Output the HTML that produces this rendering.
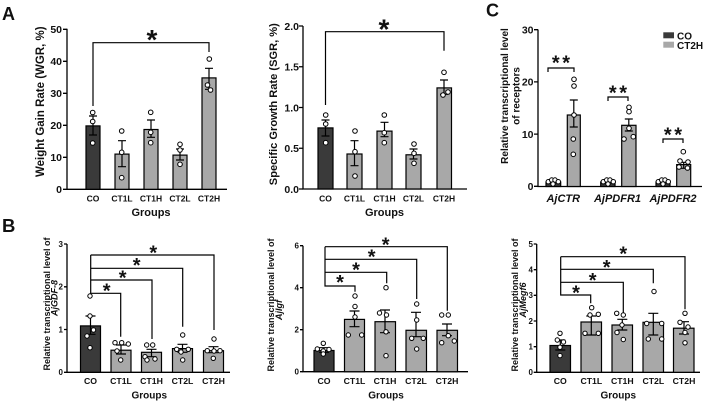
<!DOCTYPE html>
<html><head><meta charset="utf-8"><style>
html,body{margin:0;padding:0;background:#fff;}
svg{display:block;}
text{font-family:"Liberation Sans",Arial,sans-serif;font-weight:bold;fill:#111;}
.ax{stroke:#000;stroke-width:1.3;fill:none;}
.d{fill:#3a3a3a;stroke:#000;stroke-width:1.2;}
.l{fill:#a8a8a8;stroke:#000;stroke-width:1.2;}
.e{stroke:#000;stroke-width:1.2;fill:none;}
.c{fill:#fff;stroke:#000;stroke-width:1;}
</style></head><body>
<svg width="708" height="401" viewBox="0 0 708 401" xmlns="http://www.w3.org/2000/svg">
<rect width="708" height="401" fill="#fff"/>
<!-- Panel letters -->
<text x="2" y="20" font-size="18">A</text>
<text x="2" y="232" font-size="18.5">B</text>
<text x="486" y="16.5" font-size="18">C</text>

<!-- ===== A1 WGR ===== -->
<path class="ax" d="M67,28.8V189.3H227"/>
<path class="ax" d="M63,29.3H67M63,61.3H67M63,93.3H67M63,125.3H67M63,157.3H67M63,189.3H67"/>
<g font-size="10.5" text-anchor="end">
<text x="62" y="33.1">50</text><text x="62" y="65.1">40</text><text x="62" y="97.1">30</text>
<text x="62" y="129.1">20</text><text x="62" y="161.1">10</text><text x="62" y="193.1">0</text>
</g>
<rect class="d" x="86" y="125.9" width="14" height="63.4"/>
<rect class="l" x="115" y="154.1" width="14" height="35.2"/>
<rect class="l" x="144" y="129.5" width="14" height="59.8"/>
<rect class="l" x="173" y="155.1" width="14" height="34.2"/>
<rect class="l" x="202" y="77.9" width="14" height="111.4"/>
<path class="e" d="M93,116V135M89,116H97M89,135H97M122,140.7V166.7M118,140.7H126M118,166.7H126M151,120V137.3M147,120H155M147,137.3H155M180,149V160M176,149H184M176,160H184M209,68.3V89.3M205,68.3H213M205,89.3H213"/>
<g class="c">
<circle cx="92.7" cy="112.5" r="2.3"/><circle cx="92.7" cy="121.5" r="2.3"/><circle cx="92.7" cy="143" r="2.3"/>
<circle cx="121.7" cy="131" r="2.3"/><circle cx="121.7" cy="152.3" r="2.3"/><circle cx="121.7" cy="177.7" r="2.3"/>
<circle cx="150.7" cy="112.3" r="2.3"/><circle cx="150.7" cy="132.3" r="2.3"/><circle cx="150.7" cy="142.7" r="2.3"/>
<circle cx="180" cy="144.3" r="2.3"/><circle cx="180" cy="150" r="2.3"/><circle cx="180" cy="164.3" r="2.3"/>
<circle cx="209.3" cy="59" r="2.3"/><circle cx="207.5" cy="85" r="2.3"/><circle cx="210.5" cy="90" r="2.3"/>
</g>
<path class="e" d="M93,106V42.7H209V52"/>
<text x="152" y="48.9" font-size="28" text-anchor="middle">*</text>
<g font-size="8.5" text-anchor="middle">
<text x="93" y="201.5">CO</text><text x="122" y="201.5">CT1L</text><text x="151" y="201.5">CT1H</text><text x="180" y="201.5">CT2L</text><text x="209" y="201.5">CT2H</text>
</g>
<text x="151" y="216" font-size="11" text-anchor="middle">Groups</text>
<text transform="translate(44,101.7) rotate(-90)" font-size="11.5" text-anchor="middle">Weight Gain Rate (WGR, %)</text>

<!-- ===== A2 SGR ===== -->
<path class="ax" d="M303,26V189H467"/>
<path class="ax" d="M299,26H303M299,66.75H303M299,107.5H303M299,148.25H303M299,189H303"/>
<g font-size="10.5" text-anchor="end">
<text x="299" y="29.8">2.0</text><text x="299" y="70.5">1.5</text><text x="299" y="111.3">1.0</text>
<text x="299" y="152">0.5</text><text x="299" y="192.8">0.0</text>
</g>
<rect class="d" x="318" y="127.9" width="15" height="61.1"/>
<rect class="l" x="347" y="154" width="15" height="35"/>
<rect class="l" x="377" y="131.1" width="15" height="57.9"/>
<rect class="l" x="406" y="154.8" width="15" height="34.2"/>
<rect class="l" x="437" y="87.9" width="14.5" height="101.1"/>
<path class="e" d="M325.5,120V136M321.5,120H329.5M321.5,136H329.5M354.5,140.7V165.7M350.5,140.7H358.5M350.5,165.7H358.5M384.5,122.3V136.7M380.5,122.3H388.5M380.5,136.7H388.5M413.5,149V159M409.5,149H417.5M409.5,159H417.5M444,80V94.3M440,80H448M440,94.3H448"/>
<g class="c">
<circle cx="325.7" cy="115" r="2.3"/><circle cx="325.7" cy="124" r="2.3"/><circle cx="325.7" cy="142.7" r="2.3"/>
<circle cx="355" cy="131" r="2.3"/><circle cx="355" cy="151.7" r="2.3"/><circle cx="355" cy="176" r="2.3"/>
<circle cx="384.3" cy="115" r="2.3"/><circle cx="384.3" cy="132.7" r="2.3"/><circle cx="384.3" cy="142.7" r="2.3"/>
<circle cx="414" cy="144" r="2.3"/><circle cx="414" cy="153.3" r="2.3"/><circle cx="414" cy="163.3" r="2.3"/>
<circle cx="444" cy="72.3" r="2.3"/><circle cx="443" cy="95" r="2.3"/><circle cx="448" cy="92" r="2.3"/>
</g>
<path class="e" d="M325.5,105V31.7H444V50.7"/>
<text x="384" y="38.6" font-size="28" text-anchor="middle">*</text>
<g font-size="8.5" text-anchor="middle">
<text x="325.5" y="201.5">CO</text><text x="354.5" y="201.5">CT1L</text><text x="384.5" y="201.5">CT1H</text><text x="413.5" y="201.5">CT2L</text><text x="444" y="201.5">CT2H</text>
</g>
<text x="384.5" y="216" font-size="11" text-anchor="middle">Groups</text>
<text transform="translate(277,104.2) rotate(-90)" font-size="11" text-anchor="middle" textLength="162" lengthAdjust="spacingAndGlyphs">Specific Growth Rate (SGR, %)</text>

<!-- ===== C receptors ===== -->
<path class="ax" d="M538,29.5V186.5H702"/>
<path class="ax" d="M534,29.7H538M534,81.9H538M534,134.1H538M534,186.3H538"/>
<g font-size="10.5" text-anchor="end">
<text x="533.5" y="33.5">30</text><text x="533.5" y="85.7">20</text><text x="533.5" y="137.9">10</text><text x="533.5" y="190.1">0</text>
</g>
<rect class="d" x="546" y="182" width="14.7" height="4.5"/>
<rect class="l" x="567.3" y="115" width="13" height="71.5"/>
<rect class="d" x="600.7" y="182" width="14.3" height="4.5"/>
<rect class="l" x="621.7" y="125.3" width="14.3" height="61.2"/>
<rect class="d" x="656" y="182" width="14" height="4.5"/>
<rect class="l" x="676.7" y="164.6" width="14" height="21.9"/>
<path class="e" d="M573.8,100V127M569.8,100H577.8M569.8,127H577.8M628.8,119V131M624.8,119H632.8M624.8,131H632.8M683.7,162.3V168.3M679.7,162.3H687.7M679.7,168.3H687.7"/>
<g class="c">
<circle cx="548.3" cy="181.7" r="2.2"/><circle cx="551.7" cy="180" r="2.2"/><circle cx="555" cy="180" r="2.2"/><circle cx="558.3" cy="181.7" r="2.2"/><circle cx="553" cy="184" r="2.2"/>
<circle cx="603.3" cy="181.7" r="2.2"/><circle cx="606.7" cy="180" r="2.2"/><circle cx="610" cy="180" r="2.2"/><circle cx="613.3" cy="181.7" r="2.2"/><circle cx="608" cy="184" r="2.2"/>
<circle cx="658.3" cy="181.7" r="2.2"/><circle cx="661.7" cy="180" r="2.2"/><circle cx="665" cy="180" r="2.2"/><circle cx="668.3" cy="181.7" r="2.2"/><circle cx="663" cy="184" r="2.2"/>
<circle cx="574" cy="79.3" r="2.3"/><circle cx="574" cy="86" r="2.3"/><circle cx="574" cy="115" r="2.3"/><circle cx="573.3" cy="139" r="2.3"/><circle cx="573.3" cy="154.3" r="2.3"/>
<circle cx="629" cy="107.3" r="2.3"/><circle cx="629" cy="111.7" r="2.3"/><circle cx="629" cy="128.3" r="2.3"/><circle cx="624" cy="139" r="2.3"/><circle cx="633.3" cy="136.7" r="2.3"/>
<circle cx="683.3" cy="151.7" r="2.3"/><circle cx="680" cy="161" r="2.3"/><circle cx="688" cy="162" r="2.3"/><circle cx="679" cy="167" r="2.3"/><circle cx="687.5" cy="168" r="2.3"/>
</g>
<path class="e" d="M548,72V68H574V72M608,101V97H628V101M663,143V139H683V143"/>
<g font-size="20" text-anchor="middle" letter-spacing="2.5">
<text x="562.2" y="69.4">**</text><text x="619.2" y="99.4">**</text><text x="674.2" y="141.4">**</text>
</g>
<rect x="663.3" y="32.3" width="10.7" height="6" fill="#3a3a3a"/>
<rect x="663.3" y="41.7" width="10.7" height="6" fill="#a8a8a8"/>
<text x="677" y="39.5" font-size="10">CO</text>
<text x="677" y="49" font-size="10">CT2H</text>
<g font-size="11" font-style="italic" text-anchor="middle">
<text x="563.3" y="202">AjCTR</text><text x="617.5" y="202">AjPDFR1</text><text x="673" y="202">AjPDFR2</text>
</g>
<text transform="translate(508,96) rotate(-90)" font-size="10" text-anchor="middle">Relative transcriptional level</text>
<text transform="translate(519.5,96) rotate(-90)" font-size="10" text-anchor="middle">of receptors</text>

<!-- ===== B1 GDF-8 ===== -->
<path class="ax" d="M67,244V372.3H230"/>
<path class="ax" d="M64,244H67M64,286.8H67M64,329.5H67M64,372.3H67"/>
<g font-size="8" text-anchor="end">
<text x="63" y="246.9">3</text><text x="63" y="289.7">2</text><text x="63" y="332.4">1</text><text x="63" y="375.2">0</text>
</g>
<rect class="d" x="80.5" y="325.9" width="20" height="46.4"/>
<rect class="l" x="111" y="350.2" width="20" height="22.1"/>
<rect class="l" x="141.5" y="352.3" width="20" height="20"/>
<rect class="l" x="172.5" y="348.6" width="20" height="23.7"/>
<rect class="l" x="203.5" y="350.7" width="20" height="21.6"/>
<path class="e" d="M90.5,316V334.3M85.5,316H95.5M85.5,334.3H95.5M121,345V354M116,345H126M116,354H126M151.5,349.3V356.7M146.5,349.3H156.5M146.5,356.7H156.5M182.5,344.3V352.3M177.5,344.3H187.5M177.5,352.3H187.5M213.5,346.7V352.7M208.5,346.7H218.5M208.5,352.7H218.5"/>
<g class="c">
<circle cx="90" cy="296" r="2.2"/><circle cx="90" cy="316" r="2.2"/><circle cx="93.5" cy="330" r="2.2"/><circle cx="87" cy="336" r="2.2"/><circle cx="90" cy="347.7" r="2.2"/>
<circle cx="115" cy="342.7" r="2.2"/><circle cx="121.7" cy="342.7" r="2.2"/><circle cx="128.3" cy="344" r="2.2"/><circle cx="117" cy="351" r="2.2"/><circle cx="120.7" cy="360" r="2.2"/>
<circle cx="146.7" cy="345" r="2.2"/><circle cx="152.7" cy="345" r="2.2"/><circle cx="145" cy="356.7" r="2.2"/><circle cx="147" cy="360" r="2.2"/><circle cx="155" cy="359" r="2.2"/>
<circle cx="182.7" cy="335" r="2.2"/><circle cx="176.7" cy="349.3" r="2.2"/><circle cx="188.3" cy="349.3" r="2.2"/><circle cx="181" cy="352" r="2.2"/><circle cx="182.7" cy="360" r="2.2"/>
<circle cx="214" cy="339" r="2.2"/><circle cx="207.3" cy="350.7" r="2.2"/><circle cx="214" cy="351" r="2.2"/><circle cx="220" cy="350.7" r="2.2"/><circle cx="213.3" cy="358.3" r="2.2"/>
</g>
<path class="e" d="M90.7,255V293.3H120.7V336.7M90.7,280H152V339M90.7,268.3H182.7V326.7M90.7,255H214V330"/>
<g font-size="20" text-anchor="middle">
<text x="106.7" y="297.4">*</text><text x="122.7" y="284.4">*</text><text x="136.7" y="272.1">*</text><text x="153.3" y="259.7">*</text>
</g>
<g font-size="8.7" text-anchor="middle">
<text x="90.5" y="384">CO</text><text x="121" y="384">CT1L</text><text x="151.5" y="384">CT1H</text><text x="182.5" y="384">CT2L</text><text x="213.5" y="384">CT2H</text>
</g>
<text x="149.3" y="398.5" font-size="10" text-anchor="middle">Groups</text>
<text transform="translate(49.8,304) rotate(-90)" font-size="9" text-anchor="middle">Relative transcriptional level of</text>
<text transform="translate(57.5,298) rotate(-90)" font-size="9" font-style="italic" text-anchor="middle">AjGDF-8</text>

<!-- ===== B2 Igf ===== -->
<path class="ax" d="M303,245.7V371.7H468"/>
<path class="ax" d="M300,245.7H303M300,287.7H303M300,329.7H303M300,371.7H303"/>
<g font-size="8" text-anchor="end">
<text x="299" y="248.6">6</text><text x="299" y="290.6">4</text><text x="299" y="332.6">2</text><text x="299" y="374.6">0</text>
</g>
<rect class="d" x="314" y="350.5" width="20" height="21.2"/>
<rect class="l" x="344.5" y="319.4" width="20" height="52.3"/>
<rect class="l" x="375" y="321.7" width="20.5" height="50"/>
<rect class="l" x="406" y="330.3" width="20.5" height="41.4"/>
<rect class="l" x="437" y="330.3" width="20.5" height="41.4"/>
<path class="e" d="M324,347.7V352.3M319,347.7H329M319,352.3H329M354.5,311V326.7M349.5,311H359.5M349.5,326.7H359.5M385,310V332.7M380,310H390M380,332.7H390M416,312.3V336.7M411,312.3H421M411,336.7H421M447,324V335.7M442,324H452M442,335.7H452"/>
<g class="c">
<circle cx="323.3" cy="343.3" r="2.2"/><circle cx="317.3" cy="349" r="2.2"/><circle cx="329" cy="349.5" r="2.2"/><circle cx="323.3" cy="351" r="2.2"/><circle cx="323.3" cy="354" r="2.2"/>
<circle cx="355" cy="296" r="2.2"/><circle cx="355" cy="306.5" r="2.2"/><circle cx="355" cy="317" r="2.2"/><circle cx="348.3" cy="335" r="2.2"/><circle cx="361.7" cy="335" r="2.2"/>
<circle cx="386" cy="287.7" r="2.2"/><circle cx="379.5" cy="313" r="2.2"/><circle cx="386.5" cy="315" r="2.2"/><circle cx="386" cy="331.8" r="2.2"/><circle cx="386" cy="355.7" r="2.2"/>
<circle cx="416.7" cy="304" r="2.2"/><circle cx="416.7" cy="320" r="2.2"/><circle cx="411.7" cy="338.3" r="2.2"/><circle cx="423.3" cy="338.3" r="2.2"/><circle cx="416.7" cy="349" r="2.2"/>
<circle cx="441.7" cy="315" r="2.2"/><circle cx="448.3" cy="315" r="2.2"/><circle cx="448.3" cy="335.7" r="2.2"/><circle cx="441.7" cy="342.7" r="2.2"/><circle cx="454.3" cy="341" r="2.2"/>
</g>
<path class="e" d="M325,246.7V286H355V291.7M325,272.3H386.7V283.3M325,259.3H416.7V299M325,246.7H447.3V310.7"/>
<g font-size="20" text-anchor="middle">
<text x="340" y="289.1">*</text><text x="356" y="276.4">*</text><text x="371.7" y="263.7">*</text><text x="385.7" y="251.4">*</text>
</g>
<g font-size="8.7" text-anchor="middle">
<text x="324" y="384">CO</text><text x="354.5" y="384">CT1L</text><text x="385" y="384">CT1H</text><text x="416" y="384">CT2L</text><text x="447" y="384">CT2H</text>
</g>
<text x="386" y="398.5" font-size="10" text-anchor="middle">Groups</text>
<text transform="translate(274,305) rotate(-90)" font-size="9" text-anchor="middle">Relative transcriptional level of</text>
<text transform="translate(282,310) rotate(-90)" font-size="9" font-style="italic" text-anchor="middle">AjIgf</text>

<!-- ===== B3 Megf6 ===== -->
<path class="ax" d="M536.7,244V372.3H700"/>
<path class="ax" d="M533.7,244H536.7M533.7,269.7H536.7M533.7,295.3H536.7M533.7,321H536.7M533.7,346.7H536.7M533.7,372.3H536.7"/>
<g font-size="8" text-anchor="end">
<text x="533" y="246.9">5</text><text x="533" y="272.6">4</text><text x="533" y="298.2">3</text><text x="533" y="323.9">2</text><text x="533" y="349.6">1</text><text x="533" y="375.2">0</text>
</g>
<rect class="d" x="550" y="345.5" width="20.5" height="26.8"/>
<rect class="l" x="581" y="322" width="20.5" height="50.3"/>
<rect class="l" x="612" y="325" width="20.5" height="47.3"/>
<rect class="l" x="643" y="322.3" width="20.5" height="50"/>
<rect class="l" x="673.5" y="328.2" width="20.5" height="44.1"/>
<path class="e" d="M560.3,340V350M555.3,340H565.3M555.3,350H565.3M591.3,316V335M586.3,316H596.3M586.3,335H596.3M622.3,319.3V330M617.3,319.3H627.3M617.3,330H627.3M653.3,313.3V335M648.3,313.3H658.3M648.3,335H658.3M684,321.7V334M679,321.7H689M679,334H689"/>
<g class="c">
<circle cx="560" cy="333.3" r="2.2"/><circle cx="557.3" cy="340" r="2.2"/><circle cx="563.5" cy="342" r="2.2"/><circle cx="560" cy="347.2" r="2.2"/><circle cx="560" cy="355.6" r="2.2"/>
<circle cx="591.7" cy="307.7" r="2.2"/><circle cx="590" cy="315" r="2.2"/><circle cx="598.3" cy="314.3" r="2.2"/><circle cx="585" cy="333.3" r="2.2"/><circle cx="598.3" cy="333.3" r="2.2"/>
<circle cx="616.7" cy="313.3" r="2.2"/><circle cx="623.3" cy="315" r="2.2"/><circle cx="622" cy="325" r="2.2"/><circle cx="617" cy="332.5" r="2.2"/><circle cx="623.3" cy="339.5" r="2.2"/>
<circle cx="654" cy="291.5" r="2.2"/><circle cx="646.7" cy="323.5" r="2.2"/><circle cx="661.7" cy="323.5" r="2.2"/><circle cx="648.3" cy="339" r="2.2"/><circle cx="661.7" cy="339" r="2.2"/>
<circle cx="685" cy="313.3" r="2.2"/><circle cx="680" cy="322.3" r="2.2"/><circle cx="688" cy="327" r="2.2"/><circle cx="685" cy="332.5" r="2.2"/><circle cx="685" cy="342.8" r="2.2"/>
</g>
<path class="e" d="M560.7,256.7V295H590.7V303.3M560.7,282.3H623.3V312.7M560.7,269.3H653.3V283.3M560.7,256.7H685V309.3"/>
<g font-size="20" text-anchor="middle">
<text x="576" y="299.7">*</text><text x="592.7" y="287.1">*</text><text x="606.7" y="274.1">*</text><text x="623.3" y="260.7">*</text>
</g>
<g font-size="8.7" text-anchor="middle">
<text x="560.3" y="384">CO</text><text x="591.3" y="384">CT1L</text><text x="622.3" y="384">CT1H</text><text x="653.3" y="384">CT2L</text><text x="684" y="384">CT2H</text>
</g>
<text x="618.3" y="398.5" font-size="10" text-anchor="middle">Groups</text>
<text transform="translate(518,305) rotate(-90)" font-size="9" text-anchor="middle">Relative transcriptional level of</text>
<text transform="translate(526,300) rotate(-90)" font-size="9" font-style="italic" text-anchor="middle">AjMegf6</text>
</svg>
</body></html>
